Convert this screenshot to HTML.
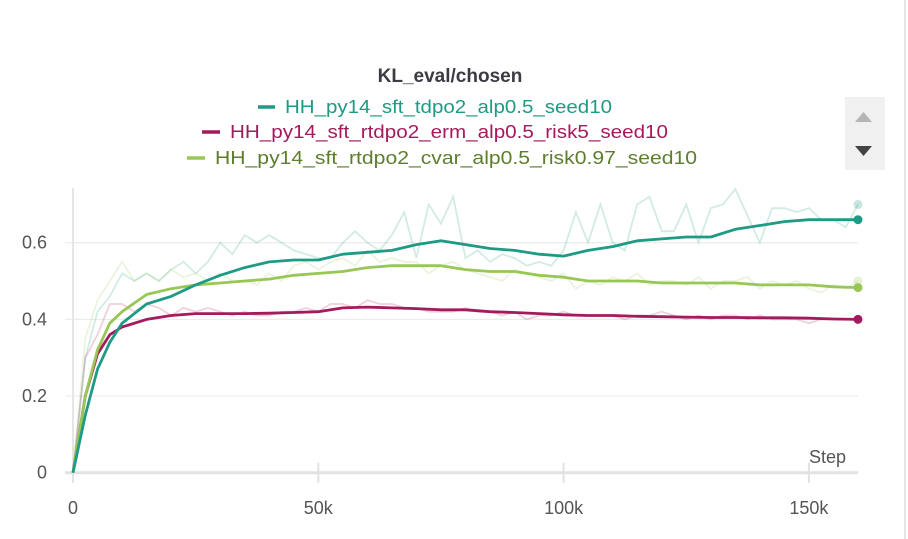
<!DOCTYPE html>
<html><head><meta charset="utf-8"><style>
html,body{margin:0;padding:0;background:#fff;}
svg{display:block;font-family:"Liberation Sans",sans-serif;}
</style></head><body>
<svg id="chart" width="908" height="539" viewBox="0 0 908 539">
<line x1="905" y1="0" x2="905" y2="539" stroke="#e6e6e6" stroke-width="2"/>
<text x="450" y="82" text-anchor="middle" font-size="19" font-weight="bold" fill="#3b3b44">KL_eval/chosen</text>
<g>
 <g><line x1="258" y1="107" x2="275" y2="107" stroke="#1f9a84" stroke-width="3.5"/><text x="285" y="113" font-size="18" fill="#1f9a84" textLength="327" lengthAdjust="spacingAndGlyphs">HH_py14_sft_tdpo2_alp0.5_seed10</text></g>
 <g><line x1="202" y1="132" x2="220" y2="132" stroke="#a31b5c" stroke-width="3.5"/><text x="230" y="138" font-size="18" fill="#a31b5c" textLength="438" lengthAdjust="spacingAndGlyphs">HH_py14_sft_rtdpo2_erm_alp0.5_risk5_seed10</text></g>
 <g><line x1="187" y1="158" x2="205" y2="158" stroke="#98c756" stroke-width="3.5"/><text x="215" y="164" font-size="18" fill="#5d7f2c" textLength="482" lengthAdjust="spacingAndGlyphs">HH_py14_sft_rtdpo2_cvar_alp0.5_risk0.97_seed10</text></g>
</g>
<rect x="845" y="97" width="40" height="73" fill="#f0f0f0"/>
<polygon points="855,122 872,122 863.5,112" fill="#b5b5b5"/>
<polygon points="855,146 872,146 863.5,156" fill="#444"/>
<g id="grid"></g><g id="axes"></g><g id="series"></g>
<text x="846" y="463" text-anchor="end" font-size="18" fill="#555">Step</text>
</svg>
<script>
const yTicks=[0,0.2,0.4,0.6];
const yTickLabels=["0","0.2","0.4","0.6"];
const xTicks=[0,50000,100000,150000];
const xTickLabels=["0","50k","100k","150k"];
const smoothSteps=[0,2500,5000,7500,10000,15000,20000,25000,30000,35000,40000,45000,50000,55000,60000,65000,70000,75000,80000,85000,90000,95000,100000,105000,110000,115000,120000,125000,130000,135000,140000,145000,150000,155000,160000];
const tdpoSmooth=[0,0.15,0.27,0.34,0.39,0.44,0.46,0.49,0.515,0.535,0.55,0.555,0.555,0.57,0.575,0.58,0.595,0.605,0.595,0.585,0.58,0.57,0.565,0.58,0.59,0.605,0.61,0.615,0.615,0.635,0.645,0.655,0.66,0.66,0.66];
const cvarSmooth=[0,0.2,0.32,0.39,0.42,0.465,0.48,0.49,0.495,0.5,0.505,0.515,0.52,0.525,0.535,0.54,0.54,0.54,0.53,0.525,0.525,0.515,0.51,0.5,0.5,0.5,0.495,0.495,0.495,0.495,0.49,0.49,0.49,0.485,0.483];
const ermSmooth=[0,0.2,0.31,0.36,0.38,0.4,0.41,0.415,0.415,0.415,0.416,0.418,0.42,0.43,0.432,0.43,0.428,0.425,0.425,0.42,0.418,0.415,0.412,0.41,0.41,0.408,0.407,0.406,0.405,0.405,0.404,0.404,0.403,0.401,0.4];
const tdpoRaw=[0,0.3,0.42,0.46,0.52,0.5,0.52,0.5,0.53,0.55,0.52,0.55,0.6,0.57,0.62,0.6,0.62,0.6,0.58,0.57,0.56,0.56,0.6,0.63,0.6,0.58,0.62,0.68,0.56,0.7,0.65,0.72,0.56,0.58,0.55,0.57,0.56,0.54,0.55,0.54,0.58,0.68,0.6,0.7,0.6,0.58,0.7,0.72,0.63,0.63,0.7,0.6,0.69,0.7,0.74,0.67,0.6,0.69,0.69,0.68,0.69,0.66,0.66,0.64,0.7];
const cvarRaw=[0,0.35,0.45,0.5,0.55,0.5,0.52,0.5,0.53,0.51,0.52,0.5,0.52,0.5,0.5,0.49,0.52,0.5,0.54,0.55,0.53,0.55,0.56,0.54,0.58,0.55,0.56,0.55,0.55,0.52,0.54,0.55,0.53,0.52,0.51,0.5,0.53,0.52,0.51,0.5,0.52,0.48,0.5,0.49,0.51,0.5,0.52,0.49,0.5,0.5,0.49,0.51,0.48,0.5,0.5,0.51,0.48,0.5,0.49,0.5,0.48,0.47,0.49,0.48,0.5];
const ermRaw=[0,0.3,0.36,0.44,0.44,0.42,0.44,0.43,0.41,0.43,0.42,0.43,0.42,0.41,0.42,0.41,0.41,0.42,0.42,0.43,0.42,0.44,0.44,0.43,0.45,0.44,0.44,0.43,0.43,0.42,0.42,0.42,0.43,0.42,0.42,0.41,0.42,0.4,0.41,0.41,0.42,0.41,0.41,0.41,0.41,0.4,0.41,0.41,0.42,0.41,0.4,0.41,0.4,0.41,0.41,0.4,0.41,0.4,0.4,0.4,0.39,0.4,0.4,0.4,0.4];
const rawStep=2500;
const X0=73,XPX=245.3/50000,Y0=472.7,YPX=383.3;
function xs(v){return X0+v*XPX;}
function ys(v){return Y0-v*YPX;}
const NS="http://www.w3.org/2000/svg";
function mk(tag,attrs,parent){const e=document.createElementNS(NS,tag);for(const k in attrs)e.setAttribute(k,attrs[k]);document.getElementById(parent).appendChild(e);return e;}
const xEnd=xs(160000);
yTicks.forEach((t,i)=>{
 const g=mk('line',{x1:X0-8,x2:xEnd,y1:ys(t),y2:ys(t),stroke:t===0?'#e2e2e2':'#ececec','stroke-width':t===0?3:1.2},'grid');
 
 
 const l=mk('text',{x:47,y:ys(t)+6,'text-anchor':'end','font-size':18,fill:'#555'},'axes');
 l.textContent=yTickLabels[i];
 
 
});
const ax=mk('line',{x1:X0,x2:X0,y1:188,y2:Y0,stroke:'#e6e6e6','stroke-width':2},'grid');


xTicks.forEach((t,i)=>{
 const tk=mk('line',{x1:xs(t),x2:xs(t),y1:Y0-10,y2:Y0+10,stroke:'#e2e2e2','stroke-width':2},'axes');
 
 
 const l=mk('text',{x:xs(t),y:514,'text-anchor':'middle','font-size':18,fill:'#555'},'axes');
 l.textContent=xTickLabels[i];
 
 
});
function drawRaw(arr,color,name){
 const p=arr.map((v,i)=>(i?'L':'M')+xs(i*rawStep).toFixed(1)+','+ys(v).toFixed(1)).join('');
 const e=mk('path',{d:p,fill:'none',stroke:color,'stroke-width':1.8,opacity:0.2},'series');
 
 
 const c=mk('circle',{cx:xs((arr.length-1)*rawStep),cy:ys(arr[arr.length-1]),r:4.5,fill:color,opacity:0.25},'series');
 
 
}
function drawSmooth(arr,color,name){
 const p=arr.map((v,i)=>(i?'L':'M')+xs(smoothSteps[i]).toFixed(1)+','+ys(v).toFixed(1)).join('');
 const e=mk('path',{d:p,fill:'none',stroke:color,'stroke-width':2.8,'stroke-linejoin':'round'},'series');
 
 
 const c=mk('circle',{cx:xs(smoothSteps[arr.length-1]),cy:ys(arr[arr.length-1]),r:4.5,fill:color},'series');
 
 
}
drawRaw(tdpoRaw,'#1f9a84','tdpo-raw-line');
drawRaw(cvarRaw,'#98c756','cvar-raw-line');
drawRaw(ermRaw,'#a31b5c','erm-raw-line');
drawSmooth(ermSmooth,'#a31b5c','erm-smoothed-line');
drawSmooth(cvarSmooth,'#98c756','cvar-smoothed-line');
drawSmooth(tdpoSmooth,'#1f9a84','tdpo-smoothed-line');
</script>
</body></html>
